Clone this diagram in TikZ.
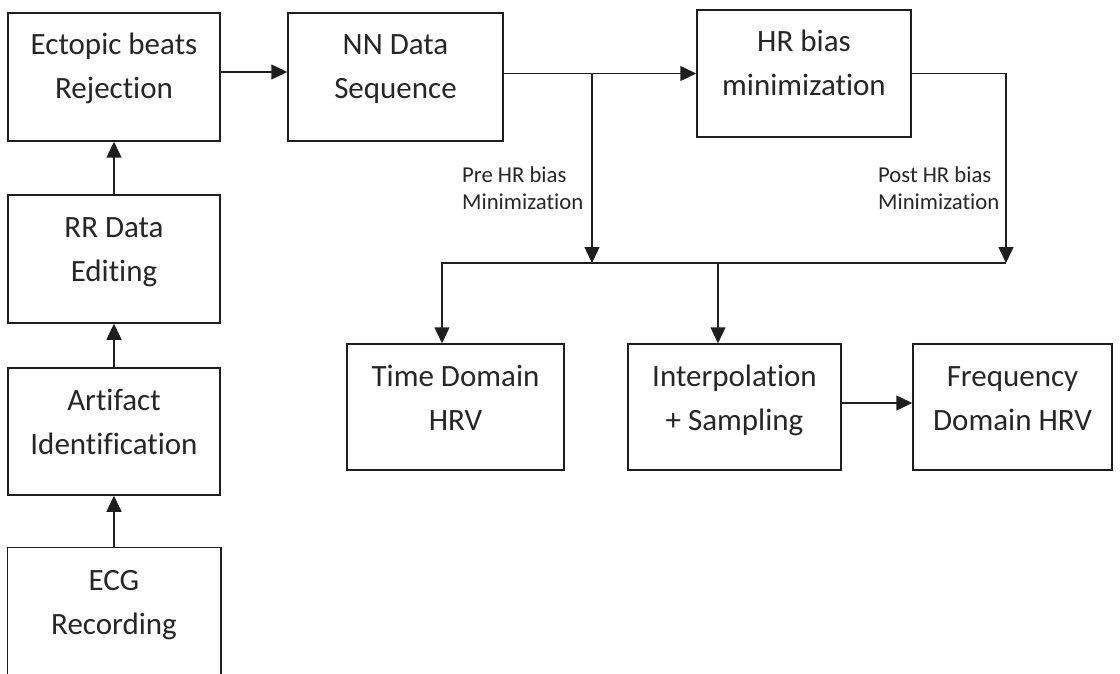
\documentclass[tikz,border=0pt]{standalone}
\usepackage{fontspec}
\setmainfont{Carlito}[Ligatures=NoCommon]
\usetikzlibrary{arrows.meta}
\definecolor{ln}{HTML}{1E1E1E}
\definecolor{tx}{HTML}{262626}
\begin{document}
\begin{tikzpicture}[x=1pt,y=-1pt,
  box/.style={draw=ln, line width=1.5pt, rectangle, inner sep=0pt, align=center,
    text=tx, font=\fontsize{31}{44}\selectfont, text height=86pt},
  openbox/.style={box, draw=none},
  lbl/.style={inner sep=0pt, align=left, anchor=north west, text=tx,
    font=\fontsize{22.7}{27}\selectfont},
  conn/.style={draw=ln, line width=1.5pt},
  arr/.style={conn, -{Triangle[length=16pt,width=15pt]}}]
\useasboundingbox (0,0) rectangle (1120,674);

\node[box, minimum width=212pt, minimum height=128pt, text depth=42pt] (ect) at (114,77) {Ectopic beats\\Rejection};
\node[box, minimum width=215pt, minimum height=128pt, text depth=42pt] (nn) at (395.5,77) {NN Data\\Sequence};
\node[box, minimum width=214pt, minimum height=127pt, text depth=41pt] (hr) at (804,73.5) {HR bias\\minimization};
\node[box, minimum width=212pt, minimum height=128pt, text depth=42pt] (rr) at (114,259) {RR Data\\Editing};
\node[box, minimum width=212pt, minimum height=127pt, text depth=41pt] (art) at (114,431.5) {Artifact\\Identification};
\node[openbox, minimum width=212pt, minimum height=126pt, text depth=40pt] (ecg) at (114,611) {ECG\\Recording};
\draw[conn] (ecg.south west) -- (ecg.north west) -- (ecg.north east) -- (ecg.south east);

\node[box, minimum width=217pt, minimum height=126pt, text depth=40pt] (td) at (455.5,407) {Time Domain\\HRV};
\node[box, minimum width=213pt, minimum height=126pt, text depth=40pt] (ip) at (734.5,407) {Interpolation\\+ Sampling};
\node[box, minimum width=199pt, minimum height=126pt, text depth=40pt] (fd) at (1012.5,407) {Frequency\\Domain HRV};

\node[lbl] (pre) at (462,167) {Pre HR bias\\Minimization};
\node[lbl] (post) at (878,167) {Post HR bias\\Minimization};

\coordinate (b1) at (592,73.5);
\coordinate (bl) at (442,263);
\coordinate (bm) at (592,263);
\coordinate (bi) at (718,263);
\coordinate (br) at (1006,263);

\draw[arr] (ecg.north) -- (art.south);
\draw[arr] (art.north) -- (rr.south);
\draw[arr] (rr.north) -- (ect.south);
\draw[arr] ([yshift=5pt]ect.east) -- ([yshift=5pt]nn.west);
\draw[arr] (nn.east |- hr.west) -- (hr.west);
\draw[arr] (b1) -- (bm);
\draw[arr] (hr.east) -| (br);
\draw[arr] (br) -- (bl) -- (bl |- td.north);
\draw[arr] (bi) -- (bi |- ip.north);
\draw[arr] ([yshift=4pt]ip.east) -- ([yshift=4pt]fd.west);
\end{tikzpicture}
\end{document}
